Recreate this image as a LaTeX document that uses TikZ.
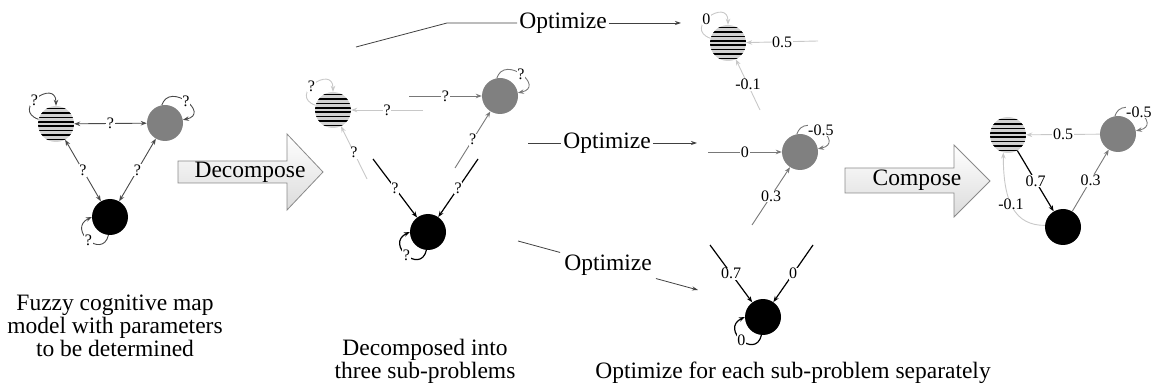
\documentclass[tikz,border=0pt]{standalone}
\usepackage{fontspec}
\setmainfont{Liberation Serif}
\usetikzlibrary{arrows.meta}
\definecolor{colLeft}{HTML}{4A4A4A}
\definecolor{colLight}{HTML}{C8C8C8}
\definecolor{colGray}{HTML}{787878}
\definecolor{fillGray}{HTML}{808080}
\definecolor{fillStripe}{HTML}{D2D2D2}
\definecolor{bigEdge}{HTML}{8A8A8A}
\begin{document}
\begin{tikzpicture}[x=1pt,y=1pt,
  nd/.style={circle, minimum size=36pt, inner sep=0pt},
  blk/.style={nd, fill=black},
  gry/.style={nd, fill=fillGray},
  str/.style={nd, fill=fillStripe, path picture={
      \foreach \k in {0,...,7}{
        \draw[line width=1.5pt] ([yshift={(\k-3.5)*4.4pt}]path picture bounding box.west) -- ([yshift={(\k-3.5)*4.4pt}]path picture bounding box.east);}}},
  lbl/.style={fill=white, inner sep=0.6pt, text=black, font=\fontsize{16}{16}\selectfont},
  arr/.style={-{Stealth[length=6pt,width=4.5pt]}, line width=0.9pt},
  dbl/.style={{Stealth[length=6pt,width=4.5pt]}-{Stealth[length=6pt,width=4.5pt]}, line width=0.9pt},
  ed/.style={arr, colLight},
  eg/.style={arr, colGray},
  eb/.style={arr, black, line width=1.2pt},
  opt/.style={font=\fontsize{23.5}{24}\selectfont, inner sep=2pt},
  captxt/.style={font=\fontsize{23.5}{23}\selectfont, align=center, inner sep=0pt},
  bigarrow/.style={draw=bigEdge, line width=0.8pt, top color=white, bottom color=black!14},
  oline/.style={draw=black!75, line width=0.8pt},
  oarr/.style={oline, -{Stealth[length=6pt,width=4pt]}}
]
\useasboundingbox (0,0) rectangle (1156,-387);

% ---------- left graph ----------
\node[str] (s1) at (56,-124) {};
\node[gry] (g1) at (165,-123) {};
\node[blk] (b1) at (110,-217) {};
\draw[dbl, colLeft] (s1) -- node[lbl]{?} (g1);
\draw[dbl, colLeft] (s1) -- node[lbl]{?} (b1);
\draw[dbl, colLeft] (g1) -- node[lbl]{?} (b1);
\draw[arr, colLeft] (s1.165) .. controls +(-28,10) and +(0,28) .. node[lbl,pos=0.45]{?} (s1.90);
\draw[arr, colLeft] (g1.100) .. controls +(8,24) and +(28,6) .. node[lbl,pos=0.5]{?} (g1.10);
\draw[arr, colLeft] (b1.265) .. controls +(-6,-25) and +(-25,-12) .. node[lbl,pos=0.5]{?} (b1.180);

% ---------- decompose arrow ----------
\path[bigarrow] (178,-161) -- (287,-161) -- (287,-134) -- (323,-172) -- (287,-210) -- (287,-183) -- (178,-183) -- cycle;
\node[opt] (dec) at (250,-172) {Decompose};

% ---------- middle graph ----------
\node[str] (s2) at (333,-110) {};
\node[gry] (g2) at (500,-96) {};
\node[blk] (b2) at (428,-232) {};
\coordinate (m1) at (409,-96);
\coordinate (m2) at (423,-110);
\coordinate (m3) at (367,-179);
\coordinate (m4) at (455,-168);
\coordinate (m5) at (373,-159);
\coordinate (m6) at (478,-159);
\draw[eg] (m1) -- node[lbl]{?} (g2);
\draw[ed] (m2) -- node[lbl]{?} (s2);
\draw[ed] (m3) -- node[lbl]{?} (s2);
\draw[eg] (m4) -- node[lbl]{?} (g2);
\draw[eb] (m5) -- node[lbl]{?} (b2);
\draw[eb] (m6) -- node[lbl]{?} (b2);
\draw[ed] (s2.165) .. controls +(-28,10) and +(0,28) .. node[lbl,pos=0.45]{?} (s2.90);
\draw[eg] (g2.100) .. controls +(8,24) and +(28,6) .. node[lbl,pos=0.5]{?} (g2.10);
\draw[eb] (b2.265) .. controls +(-6,-25) and +(-25,-12) .. node[lbl,pos=0.5]{?} (b2.180);

% ---------- optimize connectors ----------
\coordinate (t0) at (356,-47);
\coordinate (t1) at (447,-23);
\node[opt] (o1) at (563,-23) {Optimize};
\coordinate (t2) at (681,-23);
\draw[oline] (t0) -- (t1) -- (o1.west);
\draw[oarr] (o1.east) -- (t2);

\coordinate (u0) at (528,-143);
\node[opt] (o2) at (607,-143) {Optimize};
\coordinate (u1) at (697,-143);
\draw[oline] (u0) -- (o2.west);
\draw[oarr] (o2.east) -- (u1);

\coordinate (v0) at (518,-241);
\node[opt, inner sep=4pt] (o3) at (608,-265.5) {Optimize};
\coordinate (v1) at (698,-290);
\draw[oline] (v0) -- (o3);
\draw[oarr] (o3) -- (v1);

% ---------- sub-problem 1 ----------
\node[str] (s3) at (728,-43) {};
\coordinate (p1) at (818,-41);
\coordinate (p2) at (760,-110);
\draw[ed] (p1) -- node[lbl]{0.5} (s3);
\draw[ed] (p2) -- node[lbl]{-0.1} (s3);
\draw[ed] (s3.165) .. controls +(-28,10) and +(0,28) .. node[lbl,pos=0.45]{0} (s3.90);

% ---------- sub-problem 2 ----------
\node[gry] (g3) at (800,-152) {};
\coordinate (q1) at (708,-152);
\coordinate (q2) at (752,-225);
\draw[eg] (q1) -- node[lbl]{0} (g3);
\draw[eg] (q2) -- node[lbl]{0.3} (g3);
\draw[eg] (g3.100) .. controls +(8,24) and +(28,6) .. node[lbl,pos=0.5]{-0.5} (g3.10);

% ---------- sub-problem 3 ----------
\node[blk] (b3) at (763,-317) {};
\coordinate (r1) at (710,-245);
\coordinate (r2) at (813,-245);
\draw[eb] (r1) -- node[lbl]{0.7} (b3);
\draw[eb] (r2) -- node[lbl]{0} (b3);
\draw[eb] (b3.265) .. controls +(-6,-25) and +(-25,-12) .. node[lbl,pos=0.5]{0} (b3.180);

% ---------- compose arrow ----------
\path[bigarrow] (845,-168) -- (954,-168) -- (954,-145) -- (990,-181) -- (954,-217) -- (954,-193) -- (845,-193) -- cycle;
\node[opt] (com) at (917,-180) {Compose};

% ---------- final graph ----------
\node[str] (s4) at (1008,-135) {};
\node[gry] (g4) at (1118,-134) {};
\node[blk] (b4) at (1063,-227) {};
\draw[ed] (g4) -- node[lbl]{0.5} (s4);
\draw[eb] (s4) -- node[lbl]{0.7} (b4);
\draw[eg] (b4) -- node[lbl]{0.3} (g4);
\draw[ed] (b4.175) .. controls +(-30,0) and +(0,-50) .. node[lbl,pos=0.55]{-0.1} (s4.255);
\draw[eg] (g4.100) .. controls +(8,24) and +(28,6) .. node[lbl,pos=0.5]{-0.5} (g4.10);

% ---------- captions ----------
\node[captxt] (c1) at (115,-326) {Fuzzy cognitive map\\model with parameters\\to be determined};
\node[captxt] (c2) at (425,-361.5) {Decomposed into\\three sub-problems};
\node[captxt] (c3) at (793,-373) {Optimize for each sub-problem separately};
\end{tikzpicture}
\end{document}
